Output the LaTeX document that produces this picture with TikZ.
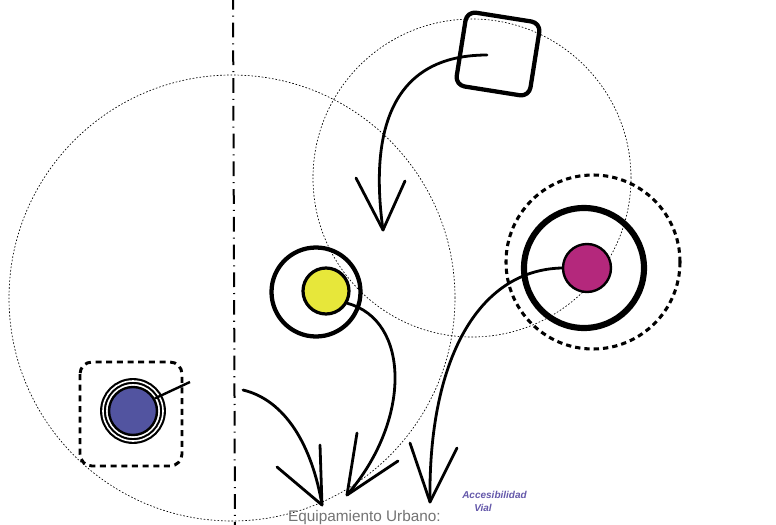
\documentclass[tikz,border=0pt]{standalone}
\usepackage{fontspec}
\setmainfont{Liberation Sans}
\begin{document}
\begin{tikzpicture}[x=0.75pt,y=-0.75pt,
  ring/.style={circle,draw=black,inner sep=0pt,minimum size=#1*0.75pt},
  dotring/.style={circle,draw=black,line width=0.5pt,dash pattern=on 1.2pt off 1.4pt,inner sep=0pt,minimum size=#1*0.75pt},
  shaft/.style={line width=2.1pt,line cap=round},
  arm/.style={line width=2.1pt,line cap=round,line join=round},
  axisline/.style={line width=1.5pt,dash pattern=on 11pt off 4.5pt on 0.8pt off 4.5pt}
]
\useasboundingbox (0,0) rectangle (776,525);
% dash-dot axis
\coordinate (axT) at (233,-5);
\coordinate (axB) at (235,530);
\draw[axisline] (axT) -- (axB);
% dotted circles
\node[dotring=446] (bigL) at (232,298) {};
\node[dotring=318] (bigR) at (472,178) {};
% rotated square
\node[draw=black,line width=3.2pt,rounded corners=7pt,minimum size=56pt,rotate=-9,inner sep=0pt] (sq) at (498,54) {};
% yellow element
\node[ring=89,line width=3.2pt] (yring) at (316,292) {};
\node[ring=46,line width=2.4pt,fill={rgb,255:red,231;green,231;blue,58}] (yel) at (326,291) {};
% magenta element
\node[ring=174,line width=2.3pt,dash pattern=on 4pt off 3pt] (mdash) at (593,262) {};
\node[ring=120,line width=4.6pt] (mring) at (584,268) {};
\node[ring=48,line width=1.8pt,fill={rgb,255:red,180;green,40;blue,124}] (mag) at (587,268) {};
% blue element
\draw[line width=2.2pt,dash pattern=on 4.5pt off 3.5pt,rounded corners=9pt] (80,362) rectangle (182,466);
\node[ring=60,line width=1.6pt,double=white,double distance=1.2pt] (bring) at (133,411) {};
\node[ring=48,line width=1.8pt,fill={rgb,255:red,82;green,84;blue,160}] (blu) at (133,411) {};
\coordinate (bend) at (190,382);
\draw[line width=1.8pt] (blu.30) -- (bend);
% arrow from square
\coordinate (t1) at (383,230);
\draw[shaft] (487,55) .. controls (380,55) and (372,150) .. (t1);
\draw[arm] (356,178) -- (t1) -- (405,181);
% arrow from yellow
\coordinate (t2) at (347,495);
\draw[shaft] (yel.-30) .. controls (410,320) and (412,420) .. (t2);
\draw[arm] (357,433) -- (t2) -- (398,461);
% left arrow
\coordinate (s3) at (243,390);
\coordinate (t3) at (322,505);
\draw[shaft] (s3) .. controls (285,400) and (312,445) .. (t3);
\draw[arm] (320,445) -- (t3) -- (277,467);
% arrow from magenta
\coordinate (t4) at (430,502);
\draw[shaft] (mag.west) .. controls (478,270) and (428,360) .. (t4);
\draw[arm] (410,443) -- (t4) -- (457,448);
% texts
\node[anchor=base east,text=black!55,font=\fontsize{11.5}{14}\selectfont,inner sep=0pt] (txt1) at (441,521) {Equipamiento Urbano:};
\node[anchor=base west,text={rgb,255:red,100;green,88;blue,170},font=\fontsize{7.5}{9.5}\selectfont\bfseries\itshape,align=left,inner sep=0pt] (txt2) at (462,511) {Accesibilidad\\ \hspace*{1.2em}Vial};
\end{tikzpicture}
\end{document}
